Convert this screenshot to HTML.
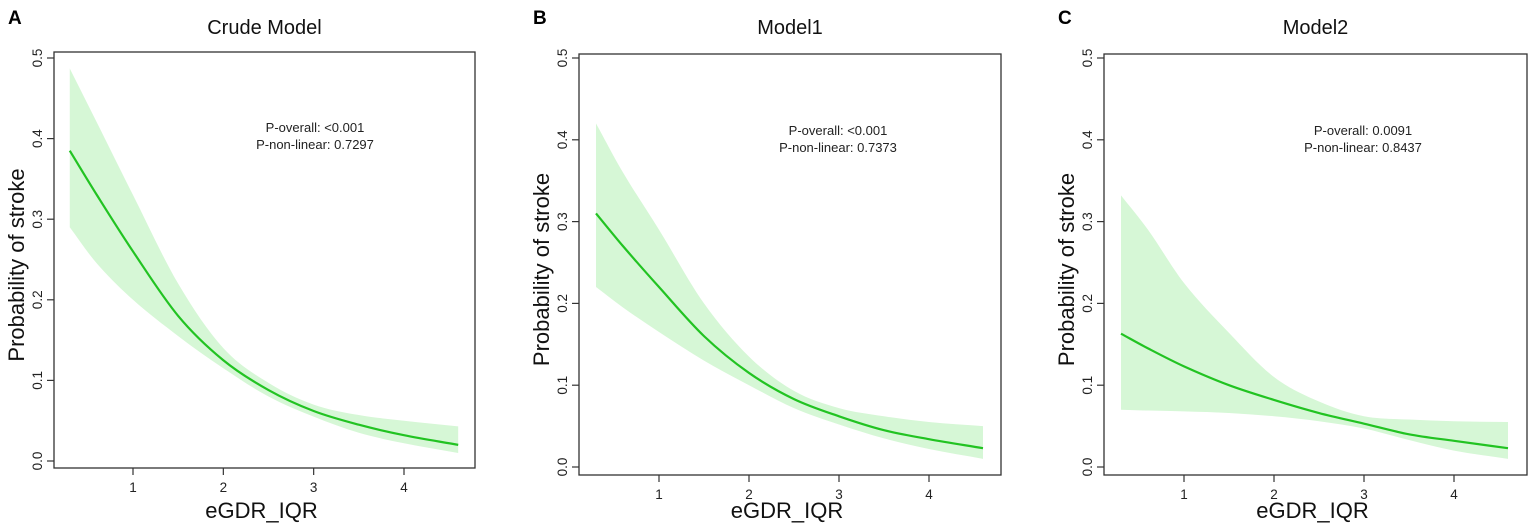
<!DOCTYPE html>
<html><head><meta charset="utf-8"><style>
body{margin:0;background:#fff;}
svg{display:block;font-family:"Liberation Sans",Arial,sans-serif;}
</style></head><body>
<svg id="chart" width="1535" height="530" viewBox="0 0 1535 530" xmlns="http://www.w3.org/2000/svg"></svg>
<script>
const xGrid = [0.3, 0.6, 1, 1.5, 2, 2.5, 3, 3.5, 4, 4.6];
const fitA = [0.385, 0.33, 0.26, 0.18, 0.125, 0.088, 0.062, 0.045, 0.032, 0.02];
const lowA = [0.29, 0.245, 0.2, 0.155, 0.115, 0.08, 0.055, 0.035, 0.022, 0.01];
const upA  = [0.487, 0.42, 0.33, 0.22, 0.14, 0.097, 0.07, 0.057, 0.05, 0.043];
const fitB = [0.31, 0.27, 0.22, 0.16, 0.115, 0.083, 0.062, 0.045, 0.034, 0.023];
const lowB = [0.22, 0.195, 0.165, 0.13, 0.1, 0.072, 0.052, 0.035, 0.022, 0.01];
const upB  = [0.42, 0.36, 0.29, 0.2, 0.135, 0.093, 0.072, 0.062, 0.055, 0.05];
const fitC = [0.163, 0.145, 0.123, 0.1, 0.082, 0.066, 0.053, 0.04, 0.032, 0.023];
const lowC = [0.07, 0.069, 0.068, 0.066, 0.062, 0.056, 0.047, 0.033, 0.02, 0.01];
const upC  = [0.332, 0.29, 0.225, 0.164, 0.11, 0.08, 0.062, 0.058, 0.056, 0.055];
const xTicks = [1, 2, 3, 4];
const yTicks = [0, 0.1, 0.2, 0.3, 0.4, 0.5];
const yTickLabels = ["0.0", "0.1", "0.2", "0.3", "0.4", "0.5"];
const titles = ["Crude Model", "Model1", "Model2"];
const letters = ["A", "B", "C"];
const pOverall = ["P-overall: <0.001", "P-overall: <0.001", "P-overall: 0.0091"];
const pNonLin = ["P-non-linear: 0.7297", "P-non-linear: 0.7373", "P-non-linear: 0.8437"];

const panels = [
  {box:[54,52,475,468], x1:133, x4:404, y0:461, y5:58, fit:fitA, low:lowA, up:upA, ann:[315,132]},
  {box:[579,54,1001,475], x1:659, x4:929, y0:467, y5:58, fit:fitB, low:lowB, up:upB, ann:[838,135]},
  {box:[1104,54,1527,475], x1:1184, x4:1454, y0:467, y5:58, fit:fitC, low:lowC, up:upC, ann:[1363,135]}
];
const NS = "http://www.w3.org/2000/svg";
const svg = document.getElementById('chart');
function mk(tag, attrs, parent, text){
  const e = document.createElementNS(NS, tag);
  for (const k in attrs) e.setAttribute(k, attrs[k]);
  if (text !== undefined) e.textContent = text;
  (parent||svg).appendChild(e); return e;
}
// Hermite spline by x; pts sorted by x (ascending or descending)
function segs(pts){
  const n = pts.length, m = [];
  for (let i=0;i<n;i++){
    const a = pts[Math.max(0,i-1)], b = pts[Math.min(n-1,i+1)];
    m.push((b[1]-a[1])/(b[0]-a[0]));
  }
  let d = "";
  for (let i=0;i<n-1;i++){
    const p1=pts[i], p2=pts[i+1], dx=(p2[0]-p1[0])/3;
    d += " C"+(p1[0]+dx)+","+(p1[1]+m[i]*dx)+" "+(p2[0]-dx)+","+(p2[1]-m[i+1]*dx)+" "+p2[0]+","+p2[1];
  }
  return d;
}
panels.forEach((p, i) => {
  const g = mk('g', {});
  
  
  const sx = v => p.x1 + (v - 1) * (p.x4 - p.x1) / 3;
  const sy = v => p.y0 - v * (p.y0 - p.y5) / 0.5;
  const [bx0, by0, bx1, by1] = p.box;
  const cx = (bx0 + bx1) / 2;
  const lt = mk('text', {x: bx0 - 46, y: 24, 'font-size': 19, 'font-weight': 'bold', fill: '#000'}, g, letters[i]);
  
  
  const tt = mk('text', {x: cx, y: 34, 'font-size': 20, 'text-anchor': 'middle', fill: '#111'}, g, titles[i]);
  
  
  const upPts = xGrid.map((x, k) => [sx(x), sy(p.up[k])]);
  const lowPts = xGrid.map((x, k) => [sx(x), sy(p.low[k])]).reverse();
  const bandD = "M"+upPts[0][0]+","+upPts[0][1] + segs(upPts) + " L" + lowPts[0][0] + "," + lowPts[0][1] + segs(lowPts) + " Z";
  const band = mk('path', {d: bandD, fill: '#d6f7d6', stroke: 'none'}, g);
  
  
  const fitPts = xGrid.map((x, k) => [sx(x), sy(p.fit[k])]);
  const line = mk('path', {d: "M"+fitPts[0][0]+","+fitPts[0][1] + segs(fitPts), fill: 'none', stroke: '#22c322', 'stroke-width': 2.2}, g);
  
  
  const box = mk('rect', {x: bx0, y: by0, width: bx1 - bx0, height: by1 - by0, fill: 'none', stroke: '#333', 'stroke-width': 1.3}, g);
  
  
  xTicks.forEach(t => {
    mk('line', {x1: sx(t), x2: sx(t), y1: by1, y2: by1 + 7, stroke: '#333', 'stroke-width': 1.2}, g);
    const tl = mk('text', {x: sx(t), y: by1 + 24, 'font-size': 13.5, 'text-anchor': 'middle', fill: '#222'}, g, String(t));
    
    
  });
  yTicks.forEach((t, k) => {
    mk('line', {x1: bx0 - 7, x2: bx0, y1: sy(t), y2: sy(t), stroke: '#333', 'stroke-width': 1.2}, g);
    const tl = mk('text', {x: 0, y: 0, 'font-size': 13.5, 'text-anchor': 'middle', fill: '#222', transform: 'translate(' + (bx0 - 12) + ',' + sy(t) + ') rotate(-90)'}, g, yTickLabels[k]);
    
    
  });
  const xt = mk('text', {x: cx - 3, y: 518, 'font-size': 22, 'text-anchor': 'middle', fill: '#111'}, g, 'eGDR_IQR');
  
  
  const yt = mk('text', {x: 0, y: 0, 'font-size': 22, 'text-anchor': 'middle', fill: '#111', transform: 'translate(' + (bx0 - 30) + ',' + ((by0 + by1) / 2 + 5) + ') rotate(-90)'}, g, 'Probability of stroke');
  
  
  const a1 = mk('text', {x: p.ann[0], y: p.ann[1], 'font-size': 13, 'text-anchor': 'middle', fill: '#222'}, g, pOverall[i]);
  
  
  const a2 = mk('text', {x: p.ann[0], y: p.ann[1] + 17, 'font-size': 13, 'text-anchor': 'middle', fill: '#222'}, g, pNonLin[i]);
  
  
});
</script>
</body></html>
